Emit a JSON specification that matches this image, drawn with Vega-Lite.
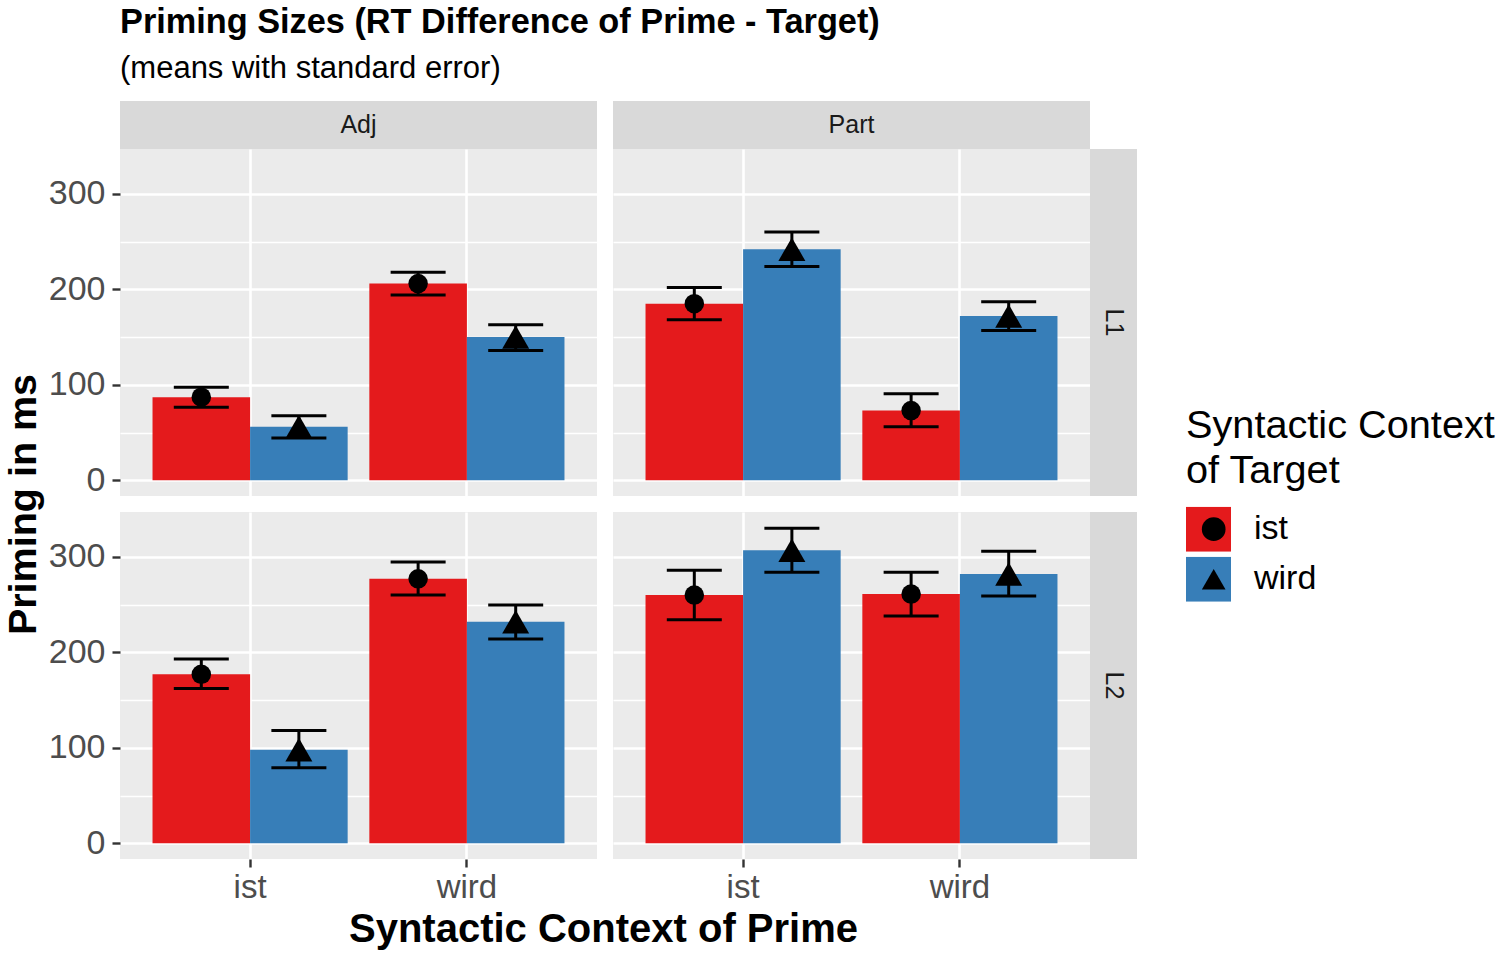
{
  "$schema": "https://vega.github.io/schema/vega-lite/v6.json",
  "padding": {"left": 3, "top": 5, "right": 5, "bottom": 5},
  "title": {
    "text": "Priming Sizes (RT Difference of Prime - Target)",
    "subtitle": "(means with standard error)",
    "anchor": "start",
    "frame": "group",
    "fontSize": 34.3,
    "fontWeight": "bold",
    "color": "#000000",
    "subtitleFontSize": 31,
    "subtitleColor": "#000000",
    "subtitlePadding": 14,
    "offset": 17
  },
  "datasets": {
    "d": [
      {"lang": "L1", "pos": "Adj", "prime": "ist", "target": "ist", "mean": 87, "lo": 76.6, "hi": 97.5},
      {"lang": "L1", "pos": "Adj", "prime": "ist", "target": "wird", "mean": 56, "lo": 44.2, "hi": 67.5},
      {"lang": "L1", "pos": "Adj", "prime": "wird", "target": "ist", "mean": 206, "lo": 194, "hi": 218},
      {"lang": "L1", "pos": "Adj", "prime": "wird", "target": "wird", "mean": 150, "lo": 136, "hi": 163},
      {"lang": "L1", "pos": "Part", "prime": "ist", "target": "ist", "mean": 185, "lo": 168, "hi": 202},
      {"lang": "L1", "pos": "Part", "prime": "ist", "target": "wird", "mean": 242, "lo": 224, "hi": 260},
      {"lang": "L1", "pos": "Part", "prime": "wird", "target": "ist", "mean": 73, "lo": 56, "hi": 90.5},
      {"lang": "L1", "pos": "Part", "prime": "wird", "target": "wird", "mean": 172, "lo": 157, "hi": 187},
      {"lang": "L2", "pos": "Adj", "prime": "ist", "target": "ist", "mean": 177, "lo": 162, "hi": 193},
      {"lang": "L2", "pos": "Adj", "prime": "ist", "target": "wird", "mean": 98, "lo": 79, "hi": 118},
      {"lang": "L2", "pos": "Adj", "prime": "wird", "target": "ist", "mean": 277, "lo": 260, "hi": 294.5},
      {"lang": "L2", "pos": "Adj", "prime": "wird", "target": "wird", "mean": 232, "lo": 214, "hi": 249.5},
      {"lang": "L2", "pos": "Part", "prime": "ist", "target": "ist", "mean": 260, "lo": 234, "hi": 286},
      {"lang": "L2", "pos": "Part", "prime": "ist", "target": "wird", "mean": 307, "lo": 284, "hi": 330},
      {"lang": "L2", "pos": "Part", "prime": "wird", "target": "ist", "mean": 261, "lo": 238, "hi": 284},
      {"lang": "L2", "pos": "Part", "prime": "wird", "target": "wird", "mean": 282, "lo": 259, "hi": 306}
    ]
  },
  "columns": 4,
  "spacing": 0,
  "align": "each",
  "bounds": "flush",
  "resolve": {"legend": {"color": "independent", "shape": "independent"}},
  "concat": [
    {
      "width": 477, "height": 48,
      "view": {"fill": "#D9D9D9", "stroke": null},
      "data": {"values": [{"lab": "Adj"}]},
      "mark": {"type": "text", "fontSize": 25, "color": "#1A1A1A"},
      "encoding": {"text": {"field": "lab", "type": "nominal"}}
    },
    {"width": 16, "height": 48, "data": {"values": []}, "mark": "point"},
    {
      "width": 477, "height": 48,
      "view": {"fill": "#D9D9D9", "stroke": null},
      "data": {"values": [{"lab": "Part"}]},
      "mark": {"type": "text", "fontSize": 25, "color": "#1A1A1A"},
      "encoding": {"text": {"field": "lab", "type": "nominal"}}
    },
    {"width": 47, "height": 48, "data": {"values": []}, "mark": "point"},
    {
      "width": 477, "height": 347,
      "view": {"fill": "#EBEBEB", "stroke": null},
      "data": {"name": "d"},
      "transform": [{"filter": "datum.lang === 'L1' && datum.pos === 'Adj'"}],
      "encoding": {
        "x": {"field": "prime", "type": "nominal", "scale": {"domain": ["ist", "wird"], "paddingInner": 0.1, "paddingOuter": 0.15},
          "axis": {"grid": true, "gridColor": "#FFFFFF", "gridWidth": 2.6, "bandPosition": 0.5, "domain": false, "ticks": false, "labels": false, "title": null}},
        "xOffset": {"field": "target", "type": "nominal", "scale": {"domain": ["ist", "wird"], "paddingInner": 0, "paddingOuter": 0}},
        "y": {"field": "mean", "type": "quantitative", "scale": {"domain": [-16.5, 347], "nice": false, "zero": false},
          "axis": {"values": [0, 50, 100, 150, 200, 250, 300], "labelExpr": "datum.value % 100 === 0 ? datum.label : ''",
            "grid": true, "gridColor": "#FFFFFF", "gridWidth": {"condition": {"test": "datum.value % 100 === 0", "value": 2.6}, "value": 1.3},
            "domain": false, "ticks": true, "tickSize": 8, "tickWidth": 2.4, "tickColor": "#333333",
            "tickOpacity": {"condition": {"test": "datum.value % 100 === 0", "value": 1}, "value": 0},
            "labelFontSize": 34, "labelColor": "#4D4D4D", "labelPadding": 7,
            "title": "Priming in ms", "titleX": -85, "titleY": 355, "titleAngle": -90, "titleAlign": "center", "titleBaseline": "alphabetic",
            "titleFontSize": 39.5, "titleFontWeight": "bold", "titleColor": "#000000"}}
      },
      "layer": [
        {"mark": {"type": "bar"}, "encoding": {"y2": {"datum": 0}, "color": {"field": "target", "type": "nominal", "scale": {"domain": ["ist", "wird"], "range": ["#E41A1C", "#377EB8"]}, "legend": null}}},
        {"mark": {"type": "rule", "strokeWidth": 3, "color": "#000000"}, "encoding": {"y": {"field": "lo", "type": "quantitative"}, "y2": {"field": "hi"}}},
        {"mark": {"type": "tick", "orient": "horizontal", "size": 55, "thickness": 3, "color": "#000000", "opacity": 1}, "encoding": {"y": {"field": "lo", "type": "quantitative"}}},
        {"mark": {"type": "tick", "orient": "horizontal", "size": 55, "thickness": 3, "color": "#000000", "opacity": 1}, "encoding": {"y": {"field": "hi", "type": "quantitative"}}},
        {"transform": [{"filter": "datum.target === 'ist'"}], "mark": {"type": "point", "filled": true, "color": "#000000", "opacity": 1, "size": 380, "strokeWidth": 0}, "encoding": {"shape": {"field": "target", "type": "nominal", "scale": {"range": ["circle", "triangle-up"]}, "legend": null}}},
        {"transform": [{"filter": "datum.target === 'wird'"}], "mark": {"type": "point", "filled": true, "color": "#000000", "opacity": 1, "size": 730, "strokeWidth": 0}, "encoding": {"shape": {"field": "target", "type": "nominal", "scale": {"range": ["circle", "triangle-up"]}, "legend": null}}}
      ]
    },
    {"width": 16, "height": 347, "data": {"values": []}, "mark": "point"},
    {
      "width": 477, "height": 347,
      "view": {"fill": "#EBEBEB", "stroke": null},
      "data": {"name": "d"},
      "transform": [{"filter": "datum.lang === 'L1' && datum.pos === 'Part'"}],
      "encoding": {
        "x": {"field": "prime", "type": "nominal", "scale": {"domain": ["ist", "wird"], "paddingInner": 0.1, "paddingOuter": 0.15},
          "axis": {"grid": true, "gridColor": "#FFFFFF", "gridWidth": 2.6, "bandPosition": 0.5, "domain": false, "ticks": false, "labels": false, "title": null}},
        "xOffset": {"field": "target", "type": "nominal", "scale": {"domain": ["ist", "wird"], "paddingInner": 0, "paddingOuter": 0}},
        "y": {"field": "mean", "type": "quantitative", "scale": {"domain": [-16.5, 347], "nice": false, "zero": false},
          "axis": {"values": [0, 50, 100, 150, 200, 250, 300], "grid": true, "gridColor": "#FFFFFF",
            "gridWidth": {"condition": {"test": "datum.value % 100 === 0", "value": 2.6}, "value": 1.3},
            "domain": false, "ticks": false, "labels": false, "title": null}}
      },
      "layer": [
        {"mark": {"type": "bar"}, "encoding": {"y2": {"datum": 0}, "color": {"field": "target", "type": "nominal", "scale": {"domain": ["ist", "wird"], "range": ["#E41A1C", "#377EB8"]},
          "legend": {"orient": "none", "legendX": 573, "legendY": 258, "title": ["Syntactic Context", "of Target"],
            "titleFontSize": 39.7, "titleFontWeight": "normal", "titleColor": "#000000", "titleLineHeight": 45, "titlePadding": 15, "titleLimit": 600,
            "symbolType": "square", "symbolSize": 2025, "symbolStrokeWidth": 0, "symbolOpacity": 1,
            "labelFontSize": 34, "labelColor": "#000000", "labelOffset": 23, "clipHeight": 45, "rowPadding": 5, "padding": 0}}}},
        {"mark": {"type": "rule", "strokeWidth": 3, "color": "#000000"}, "encoding": {"y": {"field": "lo", "type": "quantitative"}, "y2": {"field": "hi"}}},
        {"mark": {"type": "tick", "orient": "horizontal", "size": 55, "thickness": 3, "color": "#000000", "opacity": 1}, "encoding": {"y": {"field": "lo", "type": "quantitative"}}},
        {"mark": {"type": "tick", "orient": "horizontal", "size": 55, "thickness": 3, "color": "#000000", "opacity": 1}, "encoding": {"y": {"field": "hi", "type": "quantitative"}}},
        {"transform": [{"filter": "datum.target === 'ist'"}], "mark": {"type": "point", "filled": true, "color": "#000000", "opacity": 1, "size": 380, "strokeWidth": 0},
          "encoding": {"shape": {"field": "target", "type": "nominal", "scale": {"range": ["circle", "triangle-up"]},
            "legend": {"orient": "none", "legendX": 573, "legendY": 258, "title": ["Syntactic Context", "of Target"],
              "titleFontSize": 39.7, "titleFontWeight": "normal", "titleOpacity": 0, "titleLineHeight": 45, "titlePadding": 15, "titleLimit": 600,
              "symbolSize": 560, "symbolFillColor": "#000000", "symbolStrokeWidth": 0, "symbolOffset": 10.7, "symbolOpacity": 1,
              "labelFontSize": 34, "labelOpacity": 0, "labelOffset": 23, "clipHeight": 45, "rowPadding": 5, "padding": 0}}}},
        {"transform": [{"filter": "datum.target === 'wird'"}], "mark": {"type": "point", "filled": true, "color": "#000000", "opacity": 1, "size": 730, "strokeWidth": 0},
          "encoding": {"shape": {"field": "target", "type": "nominal", "scale": {"range": ["circle", "triangle-up"]}}}}
      ]
    },
    {
      "width": 47, "height": 347,
      "view": {"fill": "#D9D9D9", "stroke": null},
      "data": {"values": [{"lab": "L1"}]},
      "mark": {"type": "text", "fontSize": 25, "color": "#1A1A1A", "angle": 90},
      "encoding": {"text": {"field": "lab", "type": "nominal"}}
    },
    {"width": 477, "height": 16, "data": {"values": []}, "mark": "point"},
    {"width": 16, "height": 16, "data": {"values": []}, "mark": "point"},
    {"width": 477, "height": 16, "data": {"values": []}, "mark": "point"},
    {"width": 47, "height": 16, "data": {"values": []}, "mark": "point"},
    {
      "width": 477, "height": 347,
      "view": {"fill": "#EBEBEB", "stroke": null},
      "data": {"name": "d"},
      "transform": [{"filter": "datum.lang === 'L2' && datum.pos === 'Adj'"}],
      "encoding": {
        "x": {"field": "prime", "type": "nominal", "scale": {"domain": ["ist", "wird"], "paddingInner": 0.1, "paddingOuter": 0.15},
          "axis": {"grid": true, "gridColor": "#FFFFFF", "gridWidth": 2.6, "bandPosition": 0.5, "domain": false,
            "ticks": true, "tickSize": 8, "tickWidth": 2.4, "tickColor": "#333333", "labelAngle": 0,
            "labelFontSize": 33, "labelColor": "#4D4D4D", "labelPadding": 4,
            "title": "Syntactic Context of Prime", "titleX": 483, "titleY": 82, "titleAlign": "center", "titleBaseline": "alphabetic",
            "titleFontSize": 40, "titleFontWeight": "bold", "titleColor": "#000000"}},
        "xOffset": {"field": "target", "type": "nominal", "scale": {"domain": ["ist", "wird"], "paddingInner": 0, "paddingOuter": 0}},
        "y": {"field": "mean", "type": "quantitative", "scale": {"domain": [-16.5, 347], "nice": false, "zero": false},
          "axis": {"values": [0, 50, 100, 150, 200, 250, 300], "labelExpr": "datum.value % 100 === 0 ? datum.label : ''",
            "grid": true, "gridColor": "#FFFFFF", "gridWidth": {"condition": {"test": "datum.value % 100 === 0", "value": 2.6}, "value": 1.3},
            "domain": false, "ticks": true, "tickSize": 8, "tickWidth": 2.4, "tickColor": "#333333",
            "tickOpacity": {"condition": {"test": "datum.value % 100 === 0", "value": 1}, "value": 0},
            "labelFontSize": 34, "labelColor": "#4D4D4D", "labelPadding": 7, "title": null}}
      },
      "layer": [
        {"mark": {"type": "bar"}, "encoding": {"y2": {"datum": 0}, "color": {"field": "target", "type": "nominal", "scale": {"domain": ["ist", "wird"], "range": ["#E41A1C", "#377EB8"]}, "legend": null}}},
        {"mark": {"type": "rule", "strokeWidth": 3, "color": "#000000"}, "encoding": {"y": {"field": "lo", "type": "quantitative"}, "y2": {"field": "hi"}}},
        {"mark": {"type": "tick", "orient": "horizontal", "size": 55, "thickness": 3, "color": "#000000", "opacity": 1}, "encoding": {"y": {"field": "lo", "type": "quantitative"}}},
        {"mark": {"type": "tick", "orient": "horizontal", "size": 55, "thickness": 3, "color": "#000000", "opacity": 1}, "encoding": {"y": {"field": "hi", "type": "quantitative"}}},
        {"transform": [{"filter": "datum.target === 'ist'"}], "mark": {"type": "point", "filled": true, "color": "#000000", "opacity": 1, "size": 380, "strokeWidth": 0}, "encoding": {"shape": {"field": "target", "type": "nominal", "scale": {"range": ["circle", "triangle-up"]}, "legend": null}}},
        {"transform": [{"filter": "datum.target === 'wird'"}], "mark": {"type": "point", "filled": true, "color": "#000000", "opacity": 1, "size": 730, "strokeWidth": 0}, "encoding": {"shape": {"field": "target", "type": "nominal", "scale": {"range": ["circle", "triangle-up"]}, "legend": null}}}
      ]
    },
    {"width": 16, "height": 347, "data": {"values": []}, "mark": "point"},
    {
      "width": 477, "height": 347,
      "view": {"fill": "#EBEBEB", "stroke": null},
      "data": {"name": "d"},
      "transform": [{"filter": "datum.lang === 'L2' && datum.pos === 'Part'"}],
      "encoding": {
        "x": {"field": "prime", "type": "nominal", "scale": {"domain": ["ist", "wird"], "paddingInner": 0.1, "paddingOuter": 0.15},
          "axis": {"grid": true, "gridColor": "#FFFFFF", "gridWidth": 2.6, "bandPosition": 0.5, "domain": false,
            "ticks": true, "tickSize": 8, "tickWidth": 2.4, "tickColor": "#333333", "labelAngle": 0,
            "labelFontSize": 33, "labelColor": "#4D4D4D", "labelPadding": 4, "title": null}},
        "xOffset": {"field": "target", "type": "nominal", "scale": {"domain": ["ist", "wird"], "paddingInner": 0, "paddingOuter": 0}},
        "y": {"field": "mean", "type": "quantitative", "scale": {"domain": [-16.5, 347], "nice": false, "zero": false},
          "axis": {"values": [0, 50, 100, 150, 200, 250, 300], "grid": true, "gridColor": "#FFFFFF",
            "gridWidth": {"condition": {"test": "datum.value % 100 === 0", "value": 2.6}, "value": 1.3},
            "domain": false, "ticks": false, "labels": false, "title": null}}
      },
      "layer": [
        {"mark": {"type": "bar"}, "encoding": {"y2": {"datum": 0}, "color": {"field": "target", "type": "nominal", "scale": {"domain": ["ist", "wird"], "range": ["#E41A1C", "#377EB8"]}, "legend": null}}},
        {"mark": {"type": "rule", "strokeWidth": 3, "color": "#000000"}, "encoding": {"y": {"field": "lo", "type": "quantitative"}, "y2": {"field": "hi"}}},
        {"mark": {"type": "tick", "orient": "horizontal", "size": 55, "thickness": 3, "color": "#000000", "opacity": 1}, "encoding": {"y": {"field": "lo", "type": "quantitative"}}},
        {"mark": {"type": "tick", "orient": "horizontal", "size": 55, "thickness": 3, "color": "#000000", "opacity": 1}, "encoding": {"y": {"field": "hi", "type": "quantitative"}}},
        {"transform": [{"filter": "datum.target === 'ist'"}], "mark": {"type": "point", "filled": true, "color": "#000000", "opacity": 1, "size": 380, "strokeWidth": 0}, "encoding": {"shape": {"field": "target", "type": "nominal", "scale": {"range": ["circle", "triangle-up"]}, "legend": null}}},
        {"transform": [{"filter": "datum.target === 'wird'"}], "mark": {"type": "point", "filled": true, "color": "#000000", "opacity": 1, "size": 730, "strokeWidth": 0}, "encoding": {"shape": {"field": "target", "type": "nominal", "scale": {"range": ["circle", "triangle-up"]}, "legend": null}}}
      ]
    },
    {
      "width": 47, "height": 347,
      "view": {"fill": "#D9D9D9", "stroke": null},
      "data": {"values": [{"lab": "L2"}]},
      "mark": {"type": "text", "fontSize": 25, "color": "#1A1A1A", "angle": 90},
      "encoding": {"text": {"field": "lab", "type": "nominal"}}
    }
  ],
  "config": {
    "view": {"stroke": null},
    "font": "Liberation Sans",
    "axis": {"labelFont": "Liberation Sans", "titleFont": "Liberation Sans"},
    "legend": {"labelFont": "Liberation Sans", "titleFont": "Liberation Sans"},
    "title": {"font": "Liberation Sans", "subtitleFont": "Liberation Sans"},
    "text": {"font": "Liberation Sans"}
  }
}
